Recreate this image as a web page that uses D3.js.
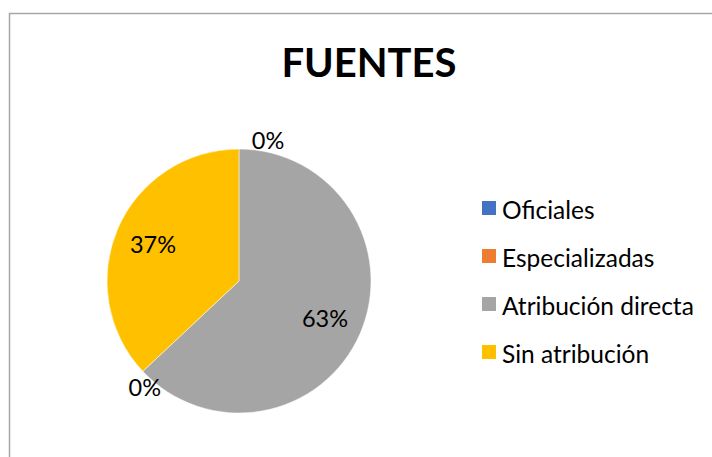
<!DOCTYPE html>
<html>
<head>
<meta charset="utf-8">
<script src="https://cdn.jsdelivr.net/npm/d3@7"></script>
<style>
  html, body { margin:0; padding:0; background:#fff; }
  svg { display:block; font-family: Lato, "Open Sans", sans-serif; }
</style>
</head>
<body>
<svg id="chart" width="712" height="457"></svg>
<script>
// data
const categories = ['Oficiales', 'Especializadas', 'Atribución directa', 'Sin atribución'];
const values     = [0, 0, 63, 37];
const colors     = ['#4472C4', '#ED7D31', '#A5A5A5', '#FFC000'];
const title      = 'FUENTES';

const svg = d3.select('#chart');
const W = 712, H = 457;

// chart area border (only top/left visible in the frame)
svg.append('path')
  .attr('d', `M9.5,${H} L9.5,13.5 L${W},13.5`)
  .attr('fill', 'none').attr('stroke', '#a6a6a6').attr('stroke-width', 1.5);

// title
svg.append('text')
  .attr('x', 369).attr('y', 77)
  .attr('text-anchor', 'middle')
  .style('font-size', '40px').style('font-weight', 'bold')
  .attr('fill', '#000')
  .text(title);

// pie
const cx = 239, cy = 281, r = 132;
const data = categories.map((c, i) => ({ key: c, val: values[i], color: colors[i] }));
const pie = d3.pie().value(d => d.val).sort(null);
const arcs = pie(data);
const arc = d3.arc().innerRadius(0).outerRadius(r);
const labelArc = d3.arc().innerRadius(r * 0.71).outerRadius(r * 0.71);

const g = svg.append('g').attr('transform', `translate(${cx},${cy})`);
g.selectAll('path').data(arcs).enter().append('path')
  .attr('d', arc)
  .attr('fill', d => d.data.color)
  .attr('stroke', '#fff').attr('stroke-width', 0.5);

// zero slices get pushed outside the pie (Excel best-fit style)
const total = d3.sum(values);
const pct = v => Math.round(v / total * 100) + '%';
let zeroCount = 0;
arcs.forEach((d, i) => {
  let x, y;
  if (d.data.val > 0) {
    [x, y] = labelArc.centroid(d);
  } else {
    // first zero label sits by the top of the pie, the next one by the gray/yellow edge
    const a = zeroCount === 0 ? 0 : arcs[2].endAngle;
    const px = r * Math.sin(a), py = -r * Math.cos(a);
    if (zeroCount === 0) { x = px + 29; y = py - 9; }
    else { x = px + 2; y = py + 16; }
    zeroCount++;
  }
  g.append('text')
    .attr('x', x).attr('y', y)
    .attr('text-anchor', 'middle')
    .attr('dominant-baseline', 'central')
    .style('font-size', '23.5px')
    .attr('fill', '#000')
    .text(pct(d.data.val));
});

// legend
const leg = svg.append('g').attr('transform', 'translate(482,208)');
const rows = leg.selectAll('g').data(data).enter().append('g')
  .attr('transform', (d, i) => `translate(0,${i * 48})`);
rows.append('rect')
  .attr('x', 0).attr('y', -7).attr('width', 14).attr('height', 14)
  .attr('fill', d => d.color);
rows.append('text')
  .attr('x', 20).attr('y', 1)
  .attr('dominant-baseline', 'central')
  .style('font-size', '24.5px')
  .attr('fill', '#000')
  .text(d => d.key);
</script>
</body>
</html>
